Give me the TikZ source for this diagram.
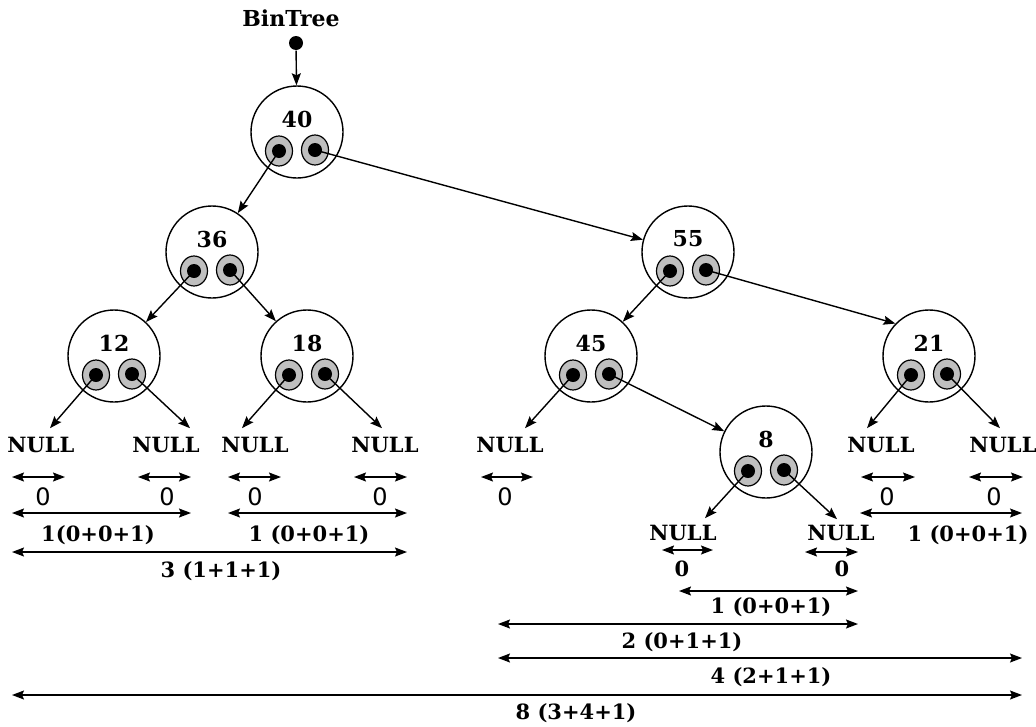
\documentclass[tikz,border=0pt]{standalone}
\usepackage{fontspec}
\setmainfont{DejaVu Serif}
\newfontfamily\zerofont{DejaVu Sans}
\usetikzlibrary{arrows.meta,shapes.geometric}

\newcommand{\bnode}[4]{\node[bcirc] (#1) at (#2,#3) {}; \node[bnum] (#1v) at (#2,#3-13) {#4};
\node[bptr] (#1l) at (#2-18,#3+19) {}; \node[bptr] (#1r) at (#2+18,#3+18) {};
\node[bdot] (#1ld) at (#1l) {}; \node[bdot] (#1rd) at (#1r) {};}
\newcommand{\measure}[4]{\coordinate (#1a) at (#2,#4); \coordinate (#1b) at (#3,#4); \draw[<->] (#1a) -- (#1b);}

\begin{document}
\begin{tikzpicture}[x=1pt, y=-1pt, line width=1.4pt,
  >={Stealth[length=12pt,width=9pt,inset=2pt]},
  bcirc/.style={circle, draw, minimum size=92pt, inner sep=0pt},
  bnum/.style={font=\bfseries\fontsize{22}{24}\selectfont, inner sep=0pt},
  bptr/.style={ellipse, draw, fill=gray!50, line width=1.2pt, minimum width=27pt, minimum height=30pt, inner sep=0pt},
  bdot/.style={circle, fill=black, minimum size=14pt, inner sep=0pt},
  nullnode/.style={font=\bfseries\fontsize{21}{24}\selectfont, inner sep=0pt, outer ysep=9pt},
  zero/.style={font=\zerofont\fontsize{24}{28}\selectfont, inner sep=0pt},
  sumlbl/.style={font=\bfseries\fontsize{21}{24}\selectfont, inner sep=0pt}]
\useasboundingbox (0,0) rectangle (1036,726);

% tree
\node[bnum] (head) at (291,18) {BinTree};
\node[bdot] (headd) at (296,43) {};
\bnode{n40}{297}{132}{40}
\bnode{n36}{212}{252}{36}
\bnode{n55}{688}{252}{55}
\bnode{n12}{114}{356}{12}
\bnode{n18}{307}{356}{18}
\bnode{n45}{591}{356}{45}
\bnode{n21}{929}{356}{21}
\bnode{n8}{766}{452}{8}

\draw[->] (headd) -- (n40);
\draw[->] (n40ld.center) -- (n36);
\draw[->] (n40rd.center) -- (n55);
\draw[->] (n36ld.center) -- (n12);
\draw[->] (n36rd.center) -- (n18);
\draw[->] (n55ld.center) -- (n45);
\draw[->] (n55rd.center) -- (n21.136);
\draw[->] (n45rd.center) -- (n8);

% empty subtrees
\node[nullnode] (nul1) at (41,445) {NULL};
\node[nullnode] (nul2) at (166,445) {NULL};
\node[nullnode] (nul3) at (255,445) {NULL};
\node[nullnode] (nul4) at (385,445) {NULL};
\node[nullnode] (nul5) at (510,445) {NULL};
\node[nullnode] (nul6) at (881,445) {NULL};
\node[nullnode] (nul7) at (1003,445) {NULL};
\node[nullnode] (nul8) at (683,533) {NULL};
\node[nullnode] (nul9) at (841,533) {NULL};

\draw[->] (n12ld.center) -- ([xshift=9pt]nul1.north);
\draw[->] (n12rd.center) -- ([xshift=24pt]nul2.north);
\draw[->] (n18ld.center) -- ([xshift=-13pt]nul3.north);
\draw[->] (n18rd.center) -- ([xshift=-3pt]nul4.north);
\draw[->] (n45ld.center) -- ([xshift=15pt]nul5.north);
\draw[->] (n21ld.center) -- ([xshift=-14pt]nul6.north);
\draw[->] (n21rd.center) -- ([xshift=-3pt]nul7.north);
\draw[->] (n8ld.center) -- ([xshift=22pt,yshift=-2pt]nul8.north);
\draw[->] (n8rd.center) -- ([xshift=-4pt,yshift=-3pt]nul9.north);

% sizes
\measure{m1}{12}{65}{477} \node[zero] (z1) at (43,497) {0};
\measure{m2}{138}{191}{477} \node[zero] (z2) at (167,497) {0};
\measure{m3}{228}{281}{477} \node[zero] (z3) at (255,497) {0};
\measure{m4}{354}{407}{477} \node[zero] (z4) at (380,497) {0};
\measure{m5}{481}{533}{477} \node[zero] (z5) at (505,497) {0};
\measure{m6}{861}{915}{477} \node[zero] (z6) at (887,497) {0};
\measure{m7}{969}{1023}{477} \node[zero] (z7) at (994,497) {0};
\measure{m8}{12}{191}{513} \node[sumlbl] (s8) at (98,535) {1(0+0+1)};
\measure{m9}{228}{407}{513} \node[sumlbl] (s9) at (309,535) {1 (0+0+1)};
\measure{m10}{860}{1022}{513} \node[sumlbl] (s10) at (968,535) {1 (0+0+1)};
\measure{m11}{12}{407}{552} \node[sumlbl] (s11) at (221,571) {3 (1+1+1)};
\measure{m12}{662}{713}{550} \node[sumlbl] (s12) at (682,569) {0};
\measure{m13}{805}{858}{552} \node[sumlbl] (s13) at (842,569) {0};
\measure{m14}{679}{858}{591} \node[sumlbl] (s14) at (771,607) {1 (0+0+1)};
\measure{m15}{498}{858}{624} \node[sumlbl] (s15) at (682,642) {2 (0+1+1)};
\measure{m16}{498}{1022}{658} \node[sumlbl] (s16) at (771,677) {4 (2+1+1)};
\measure{m17}{12}{1022}{695} \node[sumlbl] (s17) at (576,713) {8 (3+4+1)};
\end{tikzpicture}
\end{document}
